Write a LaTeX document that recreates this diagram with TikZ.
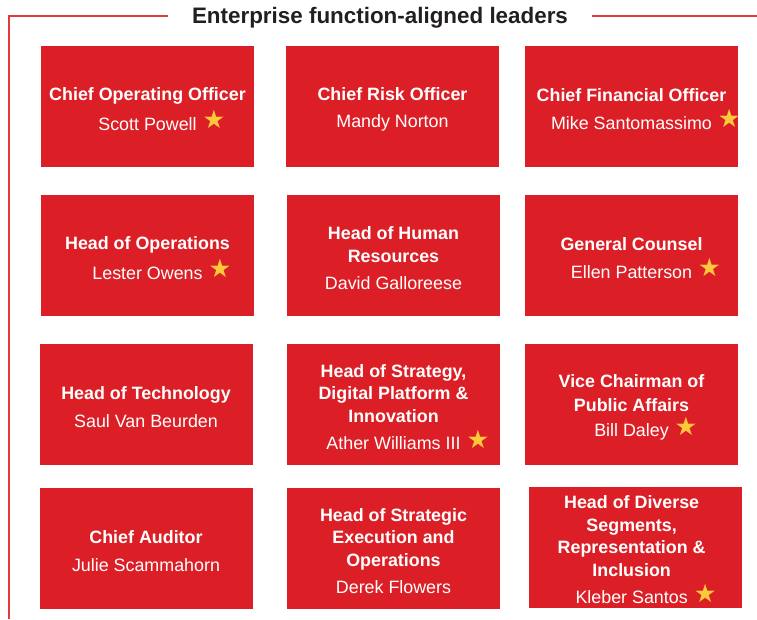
\documentclass[tikz,border=0pt]{standalone}
\usepackage{fontspec}
\setmainfont{Liberation Sans}
\newfontfamily\symfont{DejaVu Sans}
\usepackage{xcolor}
\usetikzlibrary{positioning}
\definecolor{boxred}{HTML}{DC1F26}
\definecolor{framered}{HTML}{E8383F}
\definecolor{staryellow}{HTML}{FBC93A}
\definecolor{titlegray}{HTML}{231F20}
\newcommand{\withstar}[1]{#1\rlap{\hspace{4.5pt}\raisebox{1pt}{\symfont\fontsize{19}{19}\selectfont\textcolor{staryellow}{★}}}}
\tikzset{
    role_box/.style = {rectangle, fill=boxred, draw=none, inner sep=0pt,
        minimum width=213*0.75pt, minimum height=121*0.75pt},
    role_text/.style = {text=white, align=center, inner sep=0pt, yshift=-2pt,
        font=\fontsize{13.4}{17}\selectfont},
    frame_line/.style = {draw=framered, line width=1.1pt},
    title_node/.style = {text=titlegray, font=\bfseries\fontsize{16.8}{20}\selectfont, inner sep=0pt}
}

\begin{document}
\begin{tikzpicture}
            [x=0.75pt, y=-0.75pt]

            \useasboundingbox (0,0) rectangle (757,619);

            % heading and frame
            \node [title_node] (title) at (380,17.5) {Enterprise function-aligned leaders};
            \draw [frame_line] (168,16) -- (9,16) -- (9,619);
            \draw [frame_line] (592,16) -- (757,16);

            % row 1
            \node [role_box] (coo) at (147.5,106.5) {};
            \node [role_text] (coo_text) at (coo)
                {\textbf{Chief Operating Officer}\\[3.5pt]\withstar{Scott Powell}};
            \node [role_box] (cro) at (392.5,106.5) {};
            \node [role_text] (cro_text) at (cro)
                {\textbf{Chief Risk Officer}\\[3.5pt]Mandy Norton};
            \node [role_box] (cfo) at (631.5,106.5) {};
            \node [role_text] (cfo_text) at (cfo)
                {\textbf{Chief Financial Officer}\\[3.5pt]\withstar{Mike Santomassimo}};

            % row 2
            \node [role_box] (ops) at (147.5,255.5) {};
            \node [role_text] (ops_text) at (ops)
                {\textbf{Head of Operations}\\[3.5pt]\withstar{Lester Owens}};
            \node [role_box] (hr) at (393.5,255.5) {};
            \node [role_text] (hr_text) at (hr)
                {\textbf{Head of Human}\\\textbf{Resources}\\[3.5pt]David Galloreese};
            \node [role_box] (counsel) at (631.5,255.5) {};
            \node [role_text] (counsel_text) at (counsel)
                {\textbf{General Counsel}\\[3.5pt]\withstar{Ellen Patterson}};

            % row 3
            \node [role_box] (tech) at (146,404.5) {};
            \node [role_text] (tech_text) at (tech)
                {\textbf{Head of Technology}\\[3.5pt]Saul Van Beurden};
            \node [role_box] (strategy) at (393.5,404.5) {};
            \node [role_text] (strategy_text) at (strategy)
                {\textbf{Head of Strategy,}\\\textbf{Digital Platform \&}\\\textbf{Innovation}\\[3.5pt]\withstar{Ather Williams III}};
            \node [role_box] (vicechair) at (631.5,404.5) {};
            \node [role_text] (vicechair_text) at (vicechair)
                {\textbf{Vice Chairman of}\\[1pt]\textbf{Public Affairs}\\[2pt]\withstar{Bill Daley}};

            % row 4
            \node [role_box] (auditor) at (146,548.5) {};
            \node [role_text] (auditor_text) at (auditor)
                {\textbf{Chief Auditor}\\[3.5pt]Julie Scammahorn};
            \node [role_box] (execution) at (393.5,548.5) {};
            \node [role_text] (execution_text) at (execution)
                {\textbf{Head of Strategic}\\\textbf{Execution and}\\\textbf{Operations}\\[3.5pt]Derek Flowers};
            \node [role_box] (diverse) at (635,547) {};
            \node [role_text, xshift=-2.5pt] (diverse_text) at (diverse)
                {\textbf{Head of Diverse}\\\textbf{Segments,}\\\textbf{Representation \&}\\\textbf{Inclusion}\\[3.5pt]\withstar{Kleber Santos}};
        \end{tikzpicture}
\end{document}
